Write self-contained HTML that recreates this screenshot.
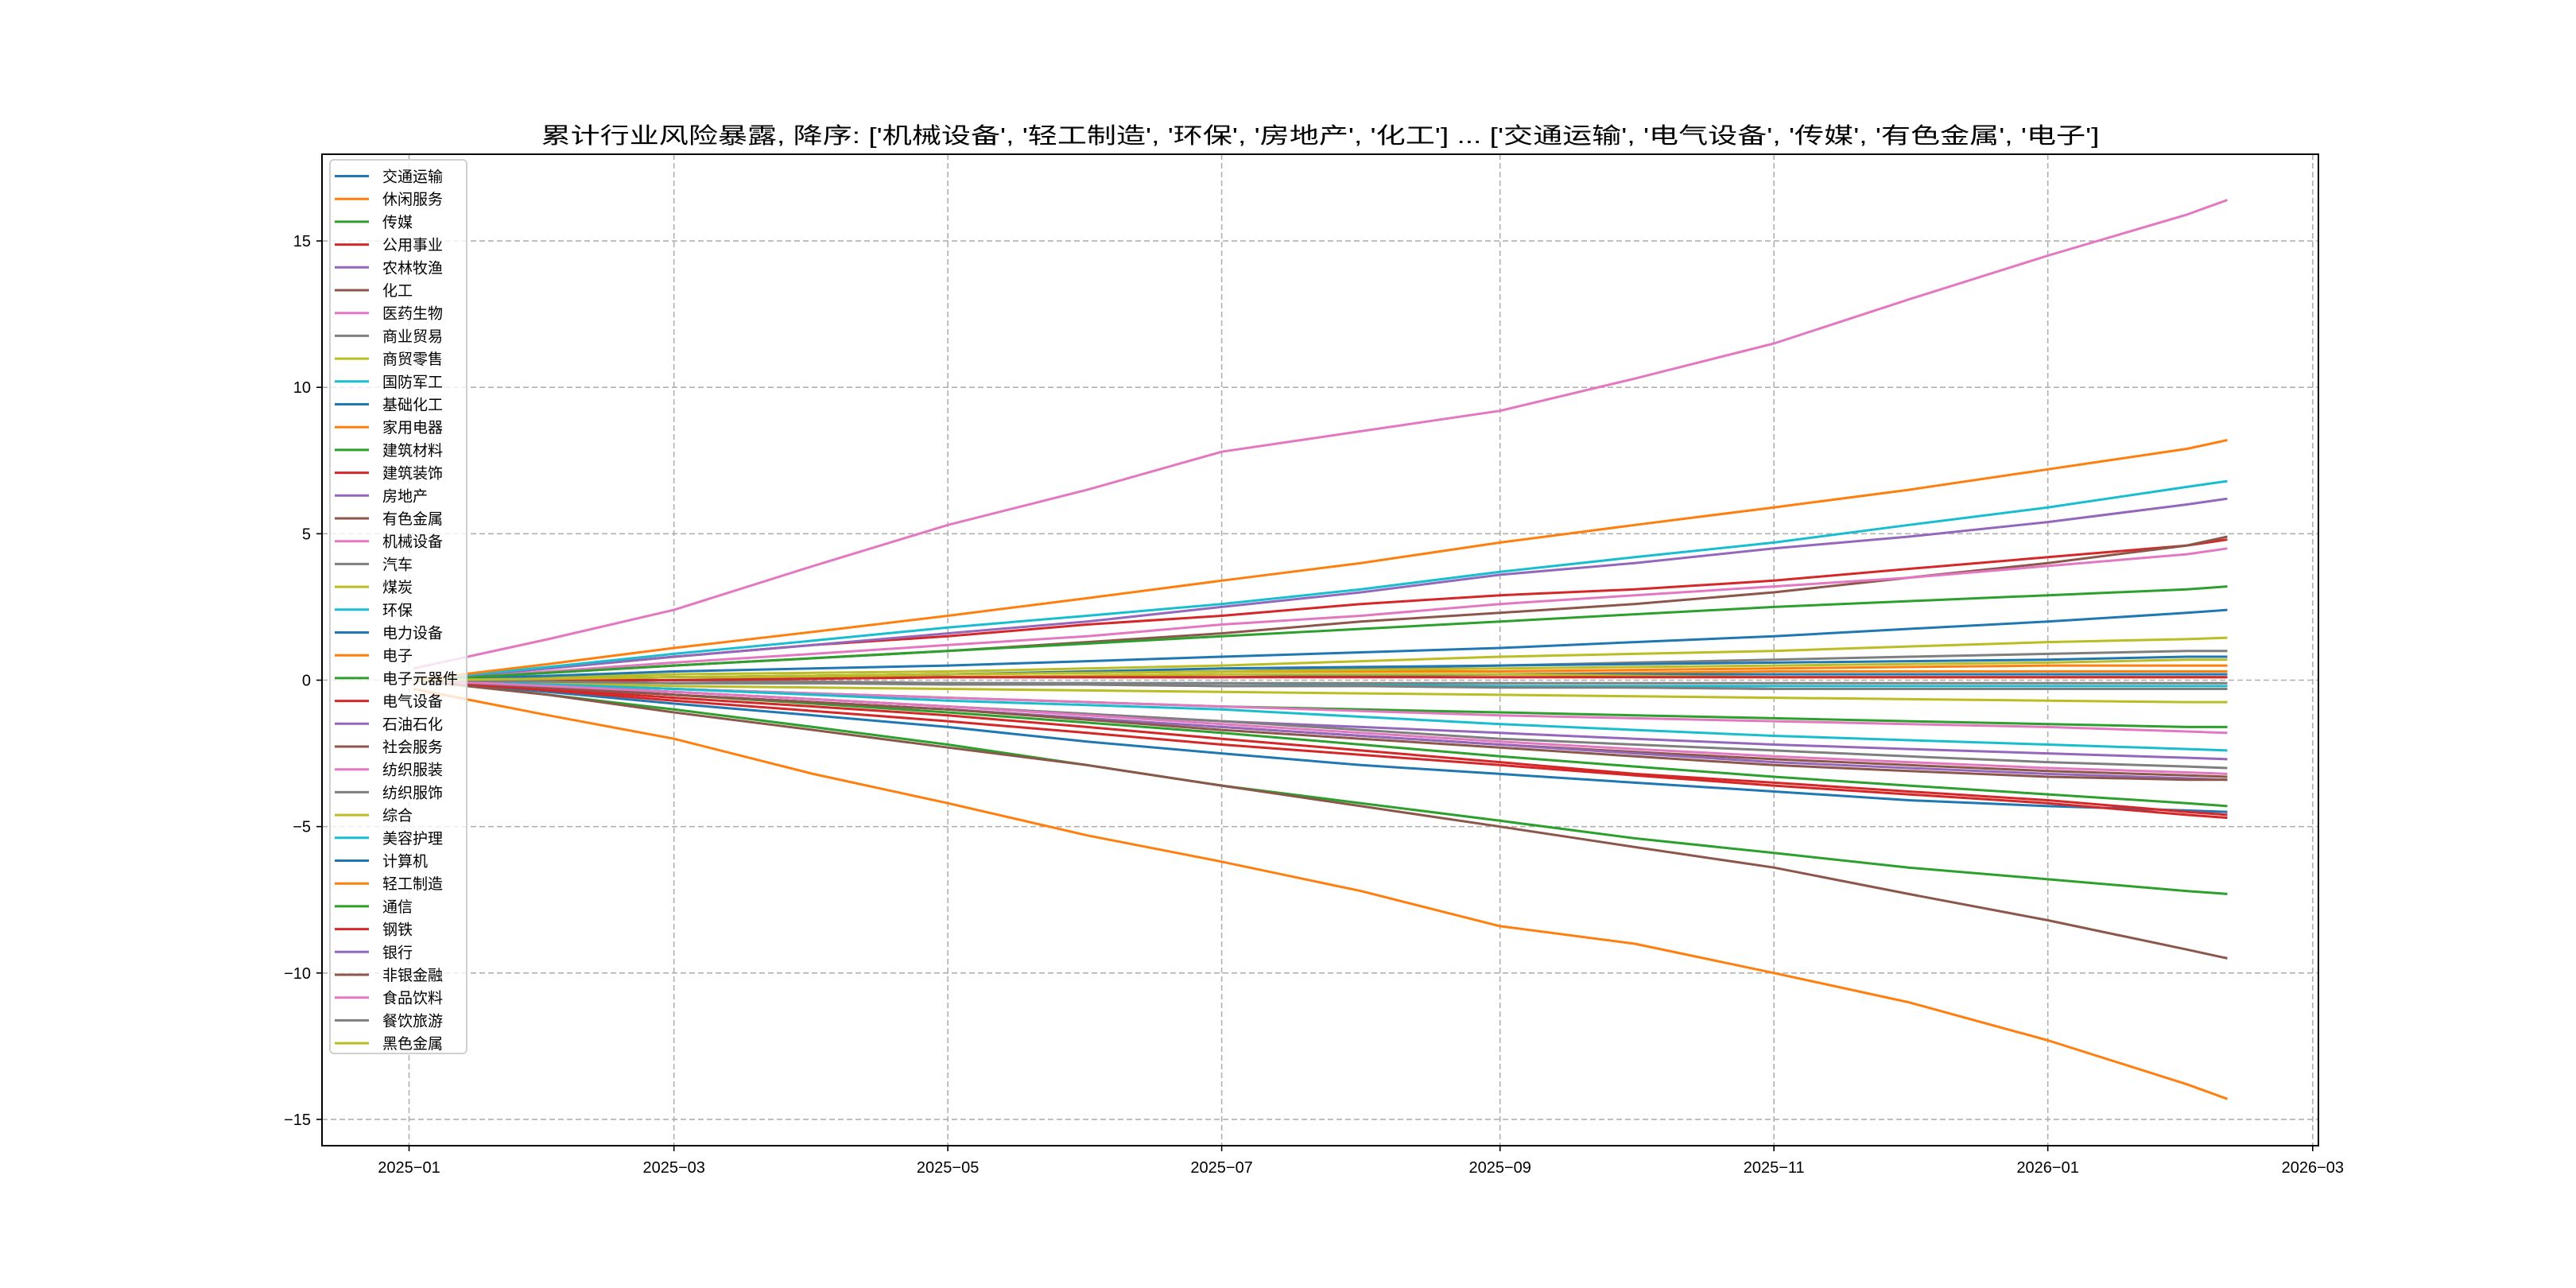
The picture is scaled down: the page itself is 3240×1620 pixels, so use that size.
<!DOCTYPE html>
<html><head><meta charset="utf-8">
<style>
html,body{margin:0;padding:0;background:#fff;}
svg{display:block;font-family:"Liberation Sans","Noto Sans CJK SC",sans-serif;}
</style></head>
<body>
<svg id="chart" width="3240" height="1620" viewBox="0 0 3240 1620" xmlns="http://www.w3.org/2000/svg">
<rect width="3240" height="1620" fill="#fff"/>
<text x="1660.5" y="180" text-anchor="middle" font-size="28" textLength="1960" lengthAdjust="spacingAndGlyphs" fill="#000">累计行业风险暴露, 降序: ['机械设备', '轻工制造', '环保', '房地产', '化工'] ... ['交通运输', '电气设备', '传媒', '有色金属', '电子']</text>
<g id="grid"></g>
<g id="lines"></g>
<g id="axes"></g>
<g id="legend"></g>
</svg>
<script>
const dates = ["2025-01-02","2025-02-01","2025-03-01","2025-04-01","2025-05-01","2025-06-01","2025-07-01","2025-08-01","2025-09-01","2025-10-01","2025-11-01","2025-12-01","2026-01-01","2026-02-01","2026-02-10"];
const names = ["交通运输","休闲服务","传媒","公用事业","农林牧渔","化工","医药生物","商业贸易","商贸零售","国防军工","基础化工","家用电器","建筑材料","建筑装饰","房地产","有色金属","机械设备","汽车","煤炭","环保","电力设备","电子","电子元器件","电气设备","石油石化","社会服务","纺织服装","纺织服饰","综合","美容护理","计算机","轻工制造","通信","钢铁","银行","非银金融","食品饮料","餐饮旅游","黑色金属"];
const s0 = [0,-0.4,-0.8,-1.2,-1.6,-2.1,-2.5,-2.9,-3.2,-3.5,-3.8,-4.1,-4.3,-4.45,-4.5];
const s1 = [0,0.05,0.1,0.1,0.1,0.15,0.2,0.2,0.2,0.25,0.3,0.3,0.3,0.3,0.3];
const s2 = [0,-0.5,-1.0,-1.6,-2.2,-2.9,-3.6,-4.2,-4.8,-5.4,-5.9,-6.4,-6.8,-7.2,-7.3];
const s3 = [0,0.4,0.8,1.2,1.5,1.9,2.2,2.6,2.9,3.1,3.4,3.8,4.2,4.6,4.8];
const s4 = [0,-0.05,-0.1,-0.1,-0.1,-0.15,-0.2,-0.2,-0.2,-0.25,-0.3,-0.3,-0.3,-0.3,-0.3];
const s5 = [0,0.25,0.5,0.75,1.0,1.3,1.6,2.0,2.3,2.6,3.0,3.5,4.0,4.6,4.9];
const s6 = [0,0.3,0.6,0.9,1.2,1.5,1.9,2.2,2.6,2.9,3.2,3.5,3.9,4.3,4.5];
const s7 = [0,0.05,0.1,0.15,0.2,0.25,0.3,0.4,0.5,0.6,0.7,0.8,0.9,1.0,1.0];
const s8 = [0,0.1,0.2,0.25,0.3,0.4,0.5,0.65,0.8,0.9,1.0,1.15,1.3,1.4,1.45];
const s9 = [0,-0.05,-0.1,-0.1,-0.1,-0.1,-0.1,-0.15,-0.2,-0.2,-0.2,-0.2,-0.2,-0.2,-0.2];
const s10 = [0,0.15,0.3,0.4,0.5,0.65,0.8,0.95,1.1,1.3,1.5,1.75,2.0,2.3,2.4];
const s11 = [0,0.05,0.1,0.15,0.2,0.25,0.3,0.3,0.3,0.35,0.4,0.45,0.5,0.5,0.5];
const s12 = [0,0.25,0.5,0.75,1.0,1.25,1.5,1.75,2.0,2.25,2.5,2.7,2.9,3.1,3.2];
const s13 = [0,-0.3,-0.6,-0.9,-1.2,-1.6,-2.0,-2.4,-2.8,-3.2,-3.5,-3.8,-4.1,-4.5,-4.6];
const s14 = [0,0.4,0.8,1.2,1.6,2.0,2.5,3.0,3.6,4.0,4.5,4.9,5.4,6.0,6.2];
const s15 = [0,-0.5,-1.1,-1.7,-2.3,-2.9,-3.6,-4.3,-5.0,-5.7,-6.4,-7.3,-8.2,-9.2,-9.5];
const s16 = [0.4,1.4,2.4,3.9,5.3,6.5,7.8,8.5,9.2,10.3,11.5,13.0,14.5,15.9,16.4];
const s17 = [0,0,0,-0.05,-0.1,-0.1,-0.1,-0.1,-0.1,-0.1,-0.1,-0.1,-0.1,-0.1,-0.1];
const s18 = [0,-0.1,-0.2,-0.25,-0.3,-0.35,-0.4,-0.45,-0.5,-0.55,-0.6,-0.65,-0.7,-0.75,-0.75];
const s19 = [0,0.45,0.9,1.35,1.8,2.2,2.6,3.1,3.7,4.2,4.7,5.3,5.9,6.6,6.8];
const s20 = [0,0.05,0.1,0.1,0.1,0.1,0.1,0.15,0.2,0.2,0.2,0.2,0.2,0.2,0.2];
const s21 = [-0.3,-1.2,-2.0,-3.2,-4.2,-5.3,-6.2,-7.2,-8.4,-9.0,-10.0,-11.0,-12.3,-13.8,-14.3];
const s22 = [0,-0.15,-0.3,-0.45,-0.6,-0.75,-0.9,-1.0,-1.1,-1.2,-1.3,-1.4,-1.5,-1.6,-1.6];
const s23 = [0,-0.35,-0.7,-1.05,-1.4,-1.8,-2.2,-2.55,-2.9,-3.25,-3.6,-3.9,-4.2,-4.6,-4.7];
const s24 = [0,-0.2,-0.4,-0.65,-0.9,-1.15,-1.4,-1.6,-1.8,-2.0,-2.2,-2.35,-2.5,-2.65,-2.7];
const s25 = [0,-0.25,-0.5,-0.75,-1.0,-1.3,-1.6,-1.9,-2.2,-2.45,-2.7,-2.9,-3.1,-3.25,-3.3];
const s26 = [0,-0.15,-0.3,-0.45,-0.6,-0.75,-0.9,-1.05,-1.2,-1.3,-1.4,-1.5,-1.6,-1.75,-1.8];
const s27 = [0,-0.2,-0.4,-0.65,-0.9,-1.15,-1.4,-1.7,-2.0,-2.2,-2.4,-2.6,-2.8,-2.95,-3.0];
const s28 = [0,0.05,0.1,0.1,0.1,0.15,0.2,0.2,0.2,0.15,0.1,0.1,0.1,0.1,0.1];
const s29 = [0,-0.15,-0.3,-0.5,-0.7,-0.85,-1.0,-1.25,-1.5,-1.7,-1.9,-2.05,-2.2,-2.35,-2.4];
const s30 = [0,0.05,0.1,0.15,0.2,0.3,0.4,0.45,0.5,0.55,0.6,0.65,0.7,0.8,0.8];
const s31 = [0,0.55,1.1,1.65,2.2,2.8,3.4,4.0,4.7,5.3,5.9,6.5,7.2,7.9,8.2];
const s32 = [0,-0.25,-0.5,-0.8,-1.1,-1.45,-1.8,-2.2,-2.6,-2.95,-3.3,-3.6,-3.9,-4.2,-4.3];
const s33 = [0,0,0,0.05,0.1,0.1,0.1,0.1,0.1,0.1,0.1,0.1,0.1,0.1,0.1];
const s34 = [0,-0.25,-0.5,-0.75,-1.0,-1.3,-1.6,-1.9,-2.2,-2.5,-2.8,-3.0,-3.2,-3.35,-3.4];
const s35 = [0,-0.25,-0.5,-0.75,-1.0,-1.35,-1.7,-2.0,-2.3,-2.6,-2.9,-3.1,-3.3,-3.4,-3.4];
const s36 = [0,-0.2,-0.4,-0.65,-0.9,-1.2,-1.5,-1.8,-2.1,-2.35,-2.6,-2.8,-3.0,-3.15,-3.2];
const s37 = [0,-0.05,-0.1,-0.1,-0.15,-0.15,-0.2,-0.2,-0.25,-0.25,-0.3,-0.3,-0.3,-0.3,-0.3];
const s38 = [0,0.05,0.1,0.15,0.2,0.25,0.3,0.35,0.4,0.45,0.5,0.55,0.6,0.7,0.7];
const series = [s0,s1,s2,s3,s4,s5,s6,s7,s8,s9,s10,s11,s12,s13,s14,s15,s16,s17,s18,s19,s20,s21,s22,s23,s24,s25,s26,s27,s28,s29,s30,s31,s32,s33,s34,s35,s36,s37,s38];
const yTicks = [-15,-10,-5,0,5,10,15];
const xTicks = ["2025-01","2025-03","2025-05","2025-07","2025-09","2025-11","2026-01","2026-03"];

const palette = ["#1f77b4","#ff7f0e","#2ca02c","#d62728","#9467bd","#8c564b","#e377c2","#7f7f7f","#bcbd22","#17becf"];
const NS = "http://www.w3.org/2000/svg";
const L = 405, R = 2916, T = 194, B = 1441;
const day = s => Date.parse(s + "T00:00:00Z") / 86400000;
const d0 = day("2025-01-01");
const xScale = d => 514.5 + (day(d) - d0) * 5.647;
const yScale = v => 855.5 - v * 36.83;
function mk(tag, attrs, parent) {
  const e = document.createElementNS(NS, tag);
  for (const k in attrs) e.setAttribute(k, attrs[k]);
  parent.appendChild(e);
  return e;
}
const grid = document.getElementById("grid");
const lines = document.getElementById("lines");
const axes = document.getElementById("axes");
const legend = document.getElementById("legend");

yTicks.forEach(v => {
  const y = yScale(v);
  const g = mk("line", {x1: L, x2: R, y1: y, y2: y, stroke: "#b0b0b0", "stroke-width": 1.6, "stroke-dasharray": "7,4"}, grid);
  
  
  const t = mk("line", {x1: L - 7, x2: L, y1: y, y2: y, stroke: "#000", "stroke-width": 1.6}, axes);
  
  
  const lb = mk("text", {x: L - 14, y: y + 7, "text-anchor": "end", "font-size": 20, fill: "#000"}, axes);
  lb.textContent = v < 0 ? "\u2212" + Math.abs(v) : String(v);
  
  
});
xTicks.forEach(m => {
  const x = xScale(m + "-01");
  const g = mk("line", {x1: x, x2: x, y1: T, y2: B, stroke: "#b0b0b0", "stroke-width": 1.6, "stroke-dasharray": "7,4"}, grid);
  
  
  const t = mk("line", {x1: x, x2: x, y1: B, y2: B + 7, stroke: "#000", "stroke-width": 1.6}, axes);
  
  
  const lb = mk("text", {x: x, y: B + 34, "text-anchor": "middle", "font-size": 20, fill: "#000"}, axes);
  lb.textContent = m.replace("-", "\u2212");
  
  
});

series.forEach((vals, i) => {
  const pts = vals.map((v, j) => xScale(dates[j]).toFixed(1) + "," + yScale(v).toFixed(1)).join(" ");
  const p = mk("polyline", {points: pts, fill: "none", stroke: palette[i % 10], "stroke-width": 3, "stroke-linejoin": "round"}, lines);
  
  
});

const frame = mk("rect", {x: L, y: T, width: R - L, height: B - T, fill: "none", stroke: "#000", "stroke-width": 2}, axes);



const lbox = mk("rect", {x: 415, y: 201, width: 172, height: 1124, rx: 5, fill: "#fff", "fill-opacity": 0.8, stroke: "#d0d0d0", "stroke-width": 2}, legend);


names.forEach((n, i) => {
  const y = 221.5 + i * 28.7;
  const g = mk("g", {}, legend);
  
  
  mk("line", {x1: 421, x2: 464, y1: y, y2: y, stroke: palette[i % 10], "stroke-width": 3}, g);
  const t = mk("text", {x: 481, y: y + 7, "font-size": 19, fill: "#000"}, g);
  t.textContent = n;
});
</script>
</body></html>
